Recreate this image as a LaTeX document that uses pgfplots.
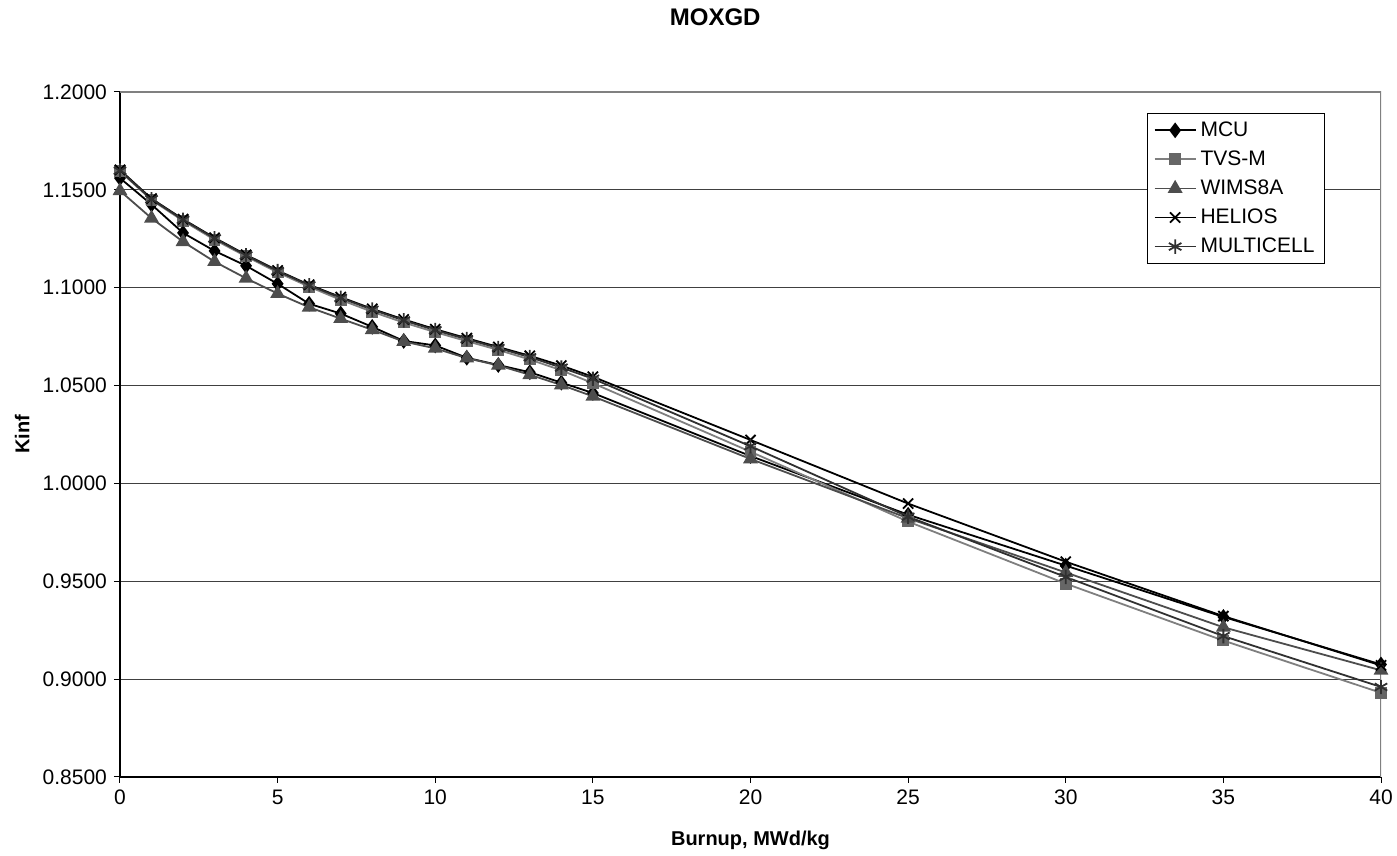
\documentclass[border=0pt]{standalone}
\usepackage{pgfplots}
\pgfplotsset{compat=1.18}
\usepackage{pgfplotstable}
\usepackage{fontspec}
\setmainfont{Liberation Sans}

\definecolor{tvsline}{HTML}{7F7F7F}
\definecolor{tvsmark}{HTML}{666666}
\definecolor{wimsc}{HTML}{4D4D4D}
\definecolor{multic}{HTML}{303030}

\pgfplotstableread{
x  mcu    tvs    wims   helios multi
0  1.1560 1.1595 1.1495 1.1602 1.1598
1  1.1425 1.1448 1.1355 1.1455 1.1452
2  1.1280 1.1342 1.1235 1.1350 1.1347
3  1.1188 1.1245 1.1133 1.1255 1.1252
4  1.1112 1.1160 1.1048 1.1168 1.1165
5  1.1020 1.1078 1.0970 1.1088 1.1085
6  1.0918 1.1005 1.0900 1.1015 1.1012
7  1.0868 1.0938 1.0842 1.0952 1.0948
8  1.0800 1.0877 1.0785 1.0892 1.0888
9  1.0728 1.0822 1.0725 1.0838 1.0833
10 1.0705 1.0773 1.0690 1.0788 1.0783
11 1.0642 1.0727 1.0640 1.0742 1.0737
12 1.0605 1.0682 1.0603 1.0697 1.0692
13 1.0568 1.0633 1.0555 1.0652 1.0645
14 1.0515 1.0578 1.0503 1.0602 1.0592
15 1.0462 1.0512 1.0445 1.0545 1.0535
20 1.0140 1.0162 1.0125 1.0222 1.0190
25 0.9840 0.9805 0.9822 0.9897 0.9830
30 0.9580 0.9488 0.9545 0.9600 0.9522
35 0.9318 0.9197 0.9265 0.9322 0.9220
40 0.9075 0.8930 0.9045 0.9070 0.8960
}\kinf

\begin{document}
\begin{tikzpicture}
\begin{axis}[
  name=ax,
  scale only axis, width=630.5pt, height=342.5pt,
  xmin=0, xmax=40, ymin=0.85, ymax=1.2,
  xtick={0,5,10,15,20,25,30,35,40},
  ytick={0.85,0.9,0.95,1.0,1.05,1.1,1.15,1.2},
  axis x line*=bottom, axis y line*=left,
  axis line style={black, line width=0.75pt, -},
  ymajorgrids, grid style={black!75, line width=0.5pt},
  tick align=outside, major tick length=3pt,
  tick style={black, line width=0.5pt},
  /pgf/number format/assume math mode=true,
  yticklabel style={/pgf/number format/.cd, fixed, fixed zerofill, precision=4},
  ticklabel style={font=\fontsize{10.5}{12}\selectfont},
  title={MOXGD},
  title style={at={(axis description cs:0.472,1.092)}, anchor=center,
    font=\bfseries\fontsize{12}{14}\selectfont},
  xlabel={Burnup, MWd/kg},
  xlabel style={at={(axis description cs:0.5,-0.092)}, anchor=center,
    font=\bfseries\fontsize{10}{12}\selectfont},
  ylabel={Kinf},
  ylabel style={at={(axis description cs:-0.0777,0.5)}, anchor=center,
    font=\bfseries\fontsize{10}{12}\selectfont},
  legend style={at={(axis description cs:1,1)}, anchor=north east,
    xshift=-28pt, yshift=-10.5pt, draw=black, line width=0.5pt,
    font=\fontsize{10.5}{12}\selectfont, row sep=1.7pt,
    cells={anchor=west}},
  legend image code/.code={%
    \draw[mark repeat=2, mark phase=2]
      plot coordinates {(0cm,0cm) (0.36cm,0cm) (0.72cm,0cm)};},
]
\draw[gray, line width=0.75pt] (rel axis cs:0,1) -- (rel axis cs:1,1) -- (rel axis cs:1,0);
\addplot[black, line width=0.9pt, mark=diamond*, mark size=3.2pt,
  mark options={fill=black, solid}] table[x=x, y=mcu]{\kinf};
\addlegendentry{MCU}
\addplot[tvsline, line width=0.9pt, mark=square*, mark size=2.5pt,
  mark options={draw=tvsmark, fill=tvsmark, solid}] table[x=x, y=tvs]{\kinf};
\addlegendentry{TVS-M}
\addplot[wimsc, line width=0.9pt, mark=triangle*, mark size=3.4pt,
  mark options={fill=wimsc, solid}] table[x=x, y=wims]{\kinf};
\addlegendentry{WIMS8A}
\addplot[black, line width=0.9pt, mark=x, mark size=3.6pt,
  mark options={solid, line width=0.9pt}] table[x=x, y=helios]{\kinf};
\addlegendentry{HELIOS}
\addplot[multic, line width=0.9pt, mark=asterisk, mark size=3.6pt,
  mark options={solid, line width=0.9pt}] table[x=x, y=multi]{\kinf};
\addlegendentry{MULTICELL}
\end{axis}
\pgfresetboundingbox
\path ([xshift=-60pt,yshift=-39.5pt]ax.south west) rectangle ([xshift=8pt,yshift=46pt]ax.north east);
\end{tikzpicture}
\end{document}
